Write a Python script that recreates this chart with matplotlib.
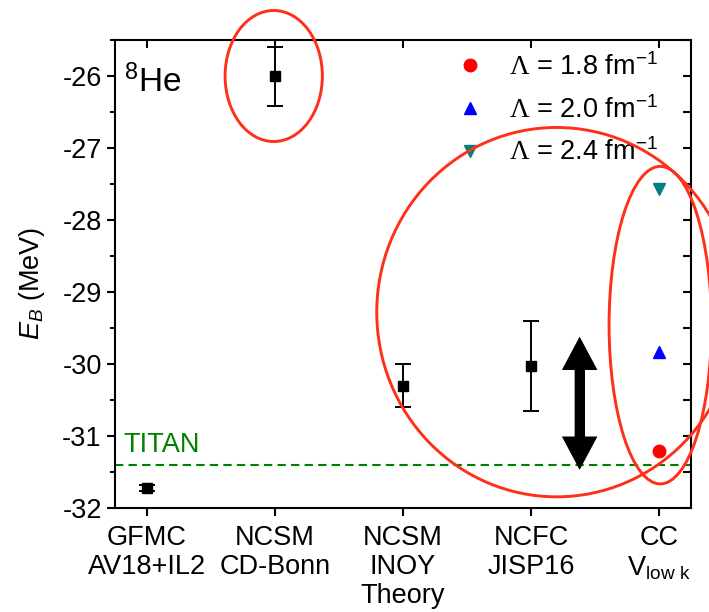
import matplotlib
matplotlib.use("Agg")
import matplotlib.pyplot as plt
from matplotlib.patches import Ellipse

plt.rcParams['font.family'] = ['Liberation Sans', 'DejaVu Sans']
plt.rcParams['axes.unicode_minus'] = False
plt.rcParams['mathtext.fontset'] = 'custom'
plt.rcParams['mathtext.rm'] = 'Liberation Serif'
plt.rcParams['mathtext.it'] = 'Liberation Sans:italic'
plt.rcParams['mathtext.sf'] = 'Liberation Sans'
plt.rcParams['mathtext.bf'] = 'Liberation Sans:bold'

FS = 19.5

# Theory results for the 8He binding energy
methods = ["GFMC\nAV18+IL2", "NCSM\nCD-Bonn", "NCSM\nINOY\nTheory",
           "NCFC\nJISP16", "CC\nV$_{\\mathsf{low\\ k}}$"]
method_pos = [1, 2, 3, 4, 5]

theory_x = [1, 2, 3, 4]
theory_E = [-31.72, -26.00, -30.30, -30.03]
theory_err_lo = [0.04, 0.41, 0.30, 0.62]
theory_err_hi = [0.04, 0.40, 0.30, 0.63]

# Coupled-cluster results with V_low k at three cutoffs
cc_x = 5
cc_labels = [r"$\Lambda$ = 1.8 fm$^{\mathsf{-1}}$",
             r"$\Lambda$ = 2.0 fm$^{\mathsf{-1}}$",
             r"$\Lambda$ = 2.4 fm$^{\mathsf{-1}}$"]
cc_E = [-31.21, -29.83, -27.57]
cc_markers = ["o", "^", "v"]
cc_colors = ["#ff0000", "#0000ff", "#008080"]

# TITAN measurement
titan_E = -31.40

# Spread indicator
spread_x = 4.38
spread_top = -29.62
spread_bottom = -31.47

# Highlight ellipses: (x, y, width, height)
highlights = [(1.99, -26.0, 0.76, 1.82),
              (4.20, -29.28, 2.81, 5.13),
              (5.01, -29.46, 0.80, 4.41)]

fig = plt.figure(figsize=(7.09, 6.12), dpi=100)
ax = fig.add_axes([115/709, 1-508/612, 576/709, 468/612])

ax.set_xlim(0.75, 5.25)
ax.set_ylim(-32, -25.5)

ax.errorbar(theory_x, theory_E, yerr=[theory_err_lo, theory_err_hi],
            fmt="s", color="black", ms=7, capsize=6, elinewidth=1.4,
            capthick=1.4, zorder=4)

for e, m, c, lab in zip(cc_E, cc_markers, cc_colors, cc_labels):
    ax.plot([cc_x], [e], linestyle="none", marker=m, color=c, ms=9,
            label=lab, zorder=4)

ax.axhline(titan_E, color="#008000", ls=(0, (4, 2.5)), lw=1.5, zorder=2)
ax.text(0.815, titan_E + 0.18, "TITAN", color="#008000", fontsize=FS,
        ha="left", va="baseline")

# double-headed arrow: solid shaft plus a filled head at each end
mid = 0.5 * (spread_top + spread_bottom)
ax.vlines(spread_x, spread_bottom + 0.3, spread_top - 0.3, color="black",
          lw=7.2, zorder=5)
for tip in (spread_top, spread_bottom):
    ax.annotate("", xy=(spread_x, tip), xytext=(spread_x, mid),
                arrowprops=dict(arrowstyle="simple,head_length=1.2,head_width=1.28,tail_width=0.36",
                                fc="black", ec="none", lw=0, shrinkA=0, shrinkB=0,
                                mutation_scale=20), zorder=5)

for (cx, cy, w, h) in highlights:
    ax.add_patch(Ellipse((cx, cy), w, h, fill=False, ec="#ff3019", lw=2.1,
                         clip_on=False, zorder=6))

ax.text(0.82, -26.08, r"$^{\mathsf{8}}$He", fontsize=24, ha="left", va="center")

ax.set_ylabel(r"$E_{B}$ (MeV)", fontsize=FS)
ax.yaxis.set_label_coords(-0.118, 0.481)

ax.set_xticks(method_pos)
ax.set_xticklabels(methods, fontsize=FS, linespacing=1.17)
ax.set_yticks([-32, -31, -30, -29, -28, -27, -26])
ax.set_yticks([-31.5, -30.5, -29.5, -28.5, -27.5, -26.5, -25.5], minor=True)
ax.tick_params(axis="y", labelsize=FS)

for s in ax.spines.values():
    s.set_linewidth(1.5)
ax.tick_params(which="major", direction="out", length=6, width=1.5,
               top=False, right=False)
ax.tick_params(which="minor", direction="out", length=3.5, width=1.5,
               top=False, right=False)
ax.tick_params(axis="x", which="minor", bottom=False)
ax.tick_params(axis="x", pad=6)

# mirrored inward ticks on top and right
sec_top = ax.secondary_xaxis("top")
sec_top.set_xticks(method_pos)
sec_top.tick_params(direction="in", length=6, width=1.5, labeltop=False)
sec_top.spines["top"].set_visible(False)
sec_right = ax.secondary_yaxis("right")
sec_right.set_yticks([-32, -31.5, -31, -30.5, -30, -29.5, -29, -28.5, -28,
                      -27.5, -27, -26.5, -26, -25.5])
sec_right.tick_params(direction="in", length=6, width=1.5, labelright=False)
sec_right.spines["right"].set_visible(False)

ax.legend(loc="upper left", bbox_to_anchor=(0.593, 0.972), frameon=False,
          fontsize=FS, handlelength=1.0, handletextpad=0.95, borderpad=0,
          borderaxespad=0, labelspacing=0.55)

fig.savefig("out.png", dpi=100)
